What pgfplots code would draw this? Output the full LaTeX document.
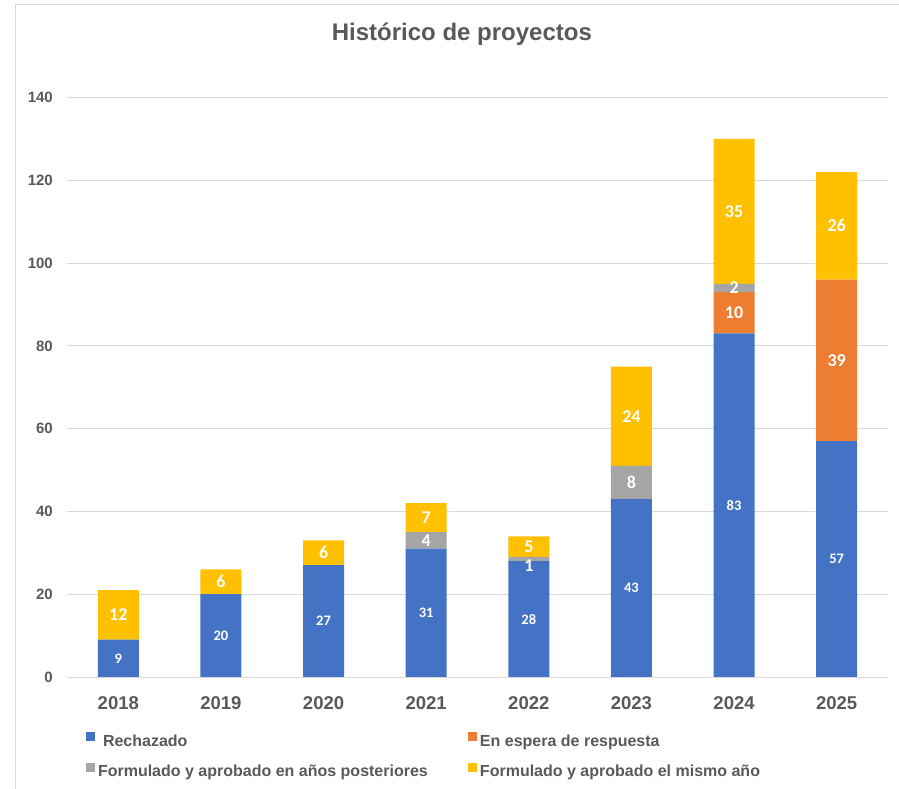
\documentclass[border=0pt]{standalone}
\usepackage{pgfplots}
\pgfplotsset{compat=1.18}
\usepackage{pgfplotstable}
\usepackage{fontspec}
\setmainfont{Liberation Sans}
\newfontfamily\calibri{Carlito}
\definecolor{cR}{HTML}{4472C4}
\definecolor{cE}{HTML}{ED7D31}
\definecolor{cF}{HTML}{A5A5A5}
\definecolor{cM}{HTML}{FFC000}
\definecolor{txt}{HTML}{595959}
\definecolor{grd}{HTML}{D9D9D9}
\pgfplotstableread{
x R E F M
0 9 0 0 12
1 20 0 0 6
2 27 0 0 6
3 31 0 4 7
4 28 0 1 5
5 43 0 8 24
6 83 10 2 35
7 57 39 0 26
}\data
\pgfplotsset{
  lblS/.style={every node near coord/.style={anchor=center, inner sep=0pt, color=white, font=\calibri\bfseries\fontsize{14.5bp}{14.5bp}\selectfont}},
  lblL/.style={every node near coord/.style={anchor=center, inner sep=0pt, color=white, font=\calibri\bfseries\fontsize{18bp}{18bp}\selectfont}},
  lblG/.style={every node near coord/.style={anchor=center, inner sep=0pt, color=white, yshift=\fshift bp, font=\calibri\bfseries\fontsize{18bp}{18bp}\selectfont}},
}
\begin{document}
\begin{tikzpicture}
\path[use as bounding box] (0,0) rectangle (899bp,789bp);
\draw[grd, line width=1bp] (15bp,0) -- (15bp,784bp) -- (899bp,784bp);
\begin{axis}[
  at={(67bp,112bp)}, anchor=south west,
  scale only axis, width=821bp, height=579.5bp,
  ybar stacked, bar width=41bp,
  xmin=-0.5, xmax=7.5, ymin=0, ymax=140,
  xtick={0,...,7}, xticklabels={2018,2019,2020,2021,2022,2023,2024,2025},
  ytick={0,20,...,140},
  axis line style={draw=none},
  major tick length=0pt,
  ymajorgrids, grid style={grd, line width=1bp},
  /pgf/number format/assume math mode=true,
  yticklabel style={font=\fontsize{15bp}{15bp}\selectfont\bfseries, color=txt, anchor=east, inner sep=0pt, xshift=-14bp},
  xticklabel style={font=\fontsize{18.5bp}{18.5bp}\selectfont\bfseries, color=txt, anchor=base, inner sep=0pt, yshift=-32bp},
  title={Histórico de proyectos},
  title style={font=\fontsize{24bp}{24bp}\selectfont\bfseries, color=txt, at={(0.481,1.0877)}, anchor=base, inner sep=0pt},
  nodes near coords={\ifdim\rawy pt>0.5pt\pgfmathprintnumber{\rawy}\fi},
  legend columns=2,
  legend cell align=left,
  legend style={draw=none, fill=none, at={(0,0)}, anchor=north west, xshift=19bp, yshift=-55.3bp, inner sep=0pt, outer sep=0pt, row sep=15bp, column sep=0pt, font=\fontsize{16bp}{16bp}\selectfont\bfseries, text=txt, nodes={inner xsep=3bp, inner ysep=0pt}},
  legend image code/.code={\fill[#1] (0bp,0bp) rectangle (9bp,9bp);},
]
\addplot[fill=cR, draw=none, visualization depends on={\thisrow{R} \as \rawy}, lblS] table[x=x, y=R]{\data};
\addplot[fill=cE, draw=none, visualization depends on={\thisrow{E} \as \rawy}, lblL] table[x=x, y=E]{\data};
\addplot[fill=cF, draw=none, visualization depends on={\thisrow{F} \as \rawy}, visualization depends on={(\thisrow{F}<1.5)*(-7) \as \fshift}, lblG] table[x=x, y=F]{\data};
\addplot[fill=cM, draw=none, visualization depends on={\thisrow{M} \as \rawy}, lblL] table[x=x, y=M]{\data};
\legend{\makebox[367bp][l]{\hspace{5bp}Rechazado}, En espera de respuesta, \makebox[367bp][l]{Formulado y aprobado en años posteriores}, Formulado y aprobado el mismo año}
\end{axis}
\end{tikzpicture}
\end{document}
